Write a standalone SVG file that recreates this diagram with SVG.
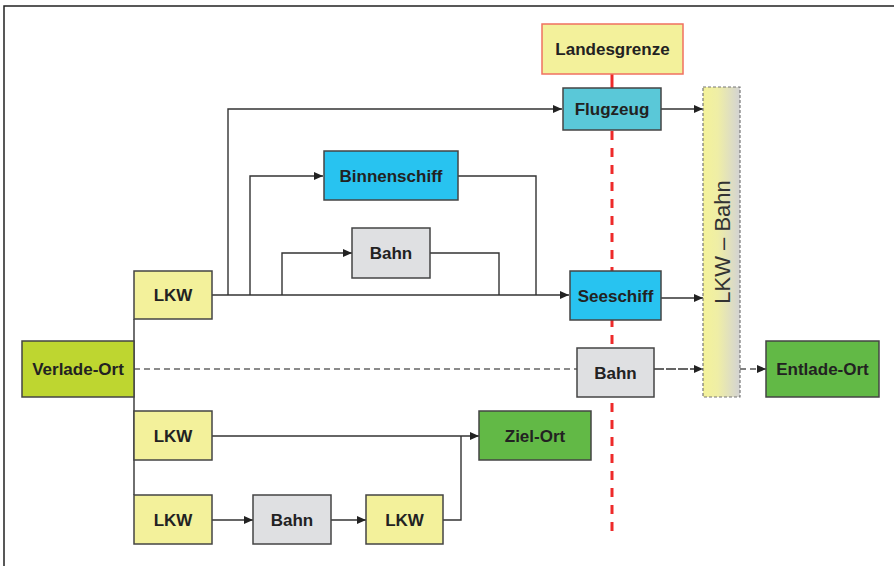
<svg xmlns="http://www.w3.org/2000/svg" width="894" height="566" viewBox="0 0 894 566">
<style>
.box{stroke:#444;stroke-width:1.5}
.lab{font-family:"Liberation Sans",Arial,sans-serif;font-weight:bold;font-size:17px;fill:#222;text-anchor:middle}
.ln{fill:none;stroke:#333;stroke-width:1.4}
.lkw{fill:#f3f19b}
.bahn{fill:#dfe0e2}
.ship{fill:#28c3f0}
</style>
<defs>
<marker id="ah" markerWidth="10" markerHeight="8" refX="9" refY="4" orient="auto" markerUnits="userSpaceOnUse">
<path d="M0,0 L9,4 L0,8 z" fill="#222"/>
</marker>
<linearGradient id="bar" x1="0" y1="0" x2="1" y2="0">
<stop offset="0" stop-color="#f4f29a"/>
<stop offset="0.4" stop-color="#efeea6"/>
<stop offset="1" stop-color="#d3d3d3"/>
</linearGradient>
</defs>
<rect width="894" height="566" fill="#fff"/>
<path d="M4,566 V6 H894" fill="none" stroke="#222" stroke-width="1.5"/>

<g id="grenze-line">
<line x1="612" y1="74" x2="612" y2="88" stroke="#ee2a2a" stroke-width="3"/>
<line x1="612" y1="131" x2="612" y2="538" stroke="#ee2a2a" stroke-width="3" stroke-dasharray="9 8"/>
</g>

<g id="connectors">
<line class="ln" x1="212" y1="295" x2="569" y2="295" marker-end="url(#ah)" stroke-width="1.6"/>
<polyline class="ln" points="228,295 228,109 562,109" marker-end="url(#ah)"/>
<polyline class="ln" points="250,295 250,176 323,176" marker-end="url(#ah)"/>
<polyline class="ln" points="282,295 282,253 352,253" marker-end="url(#ah)"/>
<polyline class="ln" points="458,176 536,176 536,295"/>
<polyline class="ln" points="430,253 499,253 499,295"/>
<line class="ln" x1="661" y1="109" x2="703" y2="109" marker-end="url(#ah)"/>
<line class="ln" x1="661" y1="298" x2="703" y2="298" marker-end="url(#ah)"/>
<line x1="134" y1="369" x2="577" y2="369" stroke="#666" stroke-width="1.5" stroke-dasharray="6 4"/>
<line class="ln" x1="654" y1="369" x2="703" y2="369" stroke-dasharray="10 2" marker-end="url(#ah)"/>
<line x1="740" y1="369" x2="766" y2="369" stroke="#555" stroke-width="1.5" stroke-dasharray="6 4" marker-end="url(#ah)"/>
<line class="ln" x1="134" y1="319" x2="134" y2="495"/>
<line class="ln" x1="212" y1="436" x2="479" y2="436" marker-end="url(#ah)"/>
<line class="ln" x1="212" y1="520" x2="253" y2="520" marker-end="url(#ah)"/>
<line class="ln" x1="331" y1="520" x2="366" y2="520" marker-end="url(#ah)"/>
<polyline class="ln" points="443,520 461,520 461,436"/>
</g>

<g id="landesgrenze">
<rect x="542" y="24" width="141" height="50" fill="#f3f19b" stroke="#f07060" stroke-width="1.5"/>
<text class="lab" x="612.5" y="55">Landesgrenze</text>
</g>
<g id="flugzeug">
<rect class="box" x="563" y="88" width="98" height="42" fill="#5ac8d8"/>
<text class="lab" x="612" y="115">Flugzeug</text>
</g>
<g id="binnenschiff">
<rect class="box ship" x="324" y="151" width="134" height="49"/>
<text class="lab" x="391" y="181.5">Binnenschiff</text>
</g>
<g id="bahn1">
<rect class="box bahn" x="352" y="228" width="78" height="50"/>
<text class="lab" x="391" y="259">Bahn</text>
</g>
<g id="lkw1">
<rect class="box lkw" x="134" y="271" width="78" height="48"/>
<text class="lab" x="173" y="301">LKW</text>
</g>
<g id="seeschiff">
<rect class="box ship" x="570" y="271" width="91" height="49"/>
<text class="lab" x="615.5" y="302">Seeschiff</text>
</g>
<g id="verlade-ort">
<rect class="box" x="22" y="341" width="112" height="56" fill="#bed630"/>
<text class="lab" x="78" y="375">Verlade-Ort</text>
</g>
<g id="bahn2">
<rect class="box bahn" x="577" y="348" width="77" height="49"/>
<text class="lab" x="615.5" y="378.5">Bahn</text>
</g>
<g id="lkw-bahn">
<rect x="703" y="87" width="37" height="310" fill="url(#bar)" stroke="#777" stroke-width="1.2" stroke-dasharray="3 2"/>
<text x="0" y="0" transform="translate(730,242) rotate(-90)" font-family="'Liberation Sans',Arial,sans-serif" font-size="22" fill="#333" text-anchor="middle">LKW – Bahn</text>
</g>
<g id="entlade-ort">
<rect class="box" x="766" y="341" width="113" height="56" fill="#62b946"/>
<text class="lab" x="822.5" y="375">Entlade-Ort</text>
</g>
<g id="lkw2">
<rect class="box lkw" x="134" y="411" width="78" height="49"/>
<text class="lab" x="173" y="441.5">LKW</text>
</g>
<g id="ziel-ort">
<rect class="box" x="479" y="411" width="112" height="49" fill="#62b946"/>
<text class="lab" x="535" y="441.5">Ziel-Ort</text>
</g>
<g id="lkw3">
<rect class="box lkw" x="134" y="495" width="78" height="49"/>
<text class="lab" x="173" y="525.5">LKW</text>
</g>
<g id="bahn3">
<rect class="box bahn" x="253" y="495" width="78" height="49"/>
<text class="lab" x="292" y="525.5">Bahn</text>
</g>
<g id="lkw4">
<rect class="box lkw" x="366" y="495" width="77" height="49"/>
<text class="lab" x="404.5" y="525.5">LKW</text>
</g>
</svg>
